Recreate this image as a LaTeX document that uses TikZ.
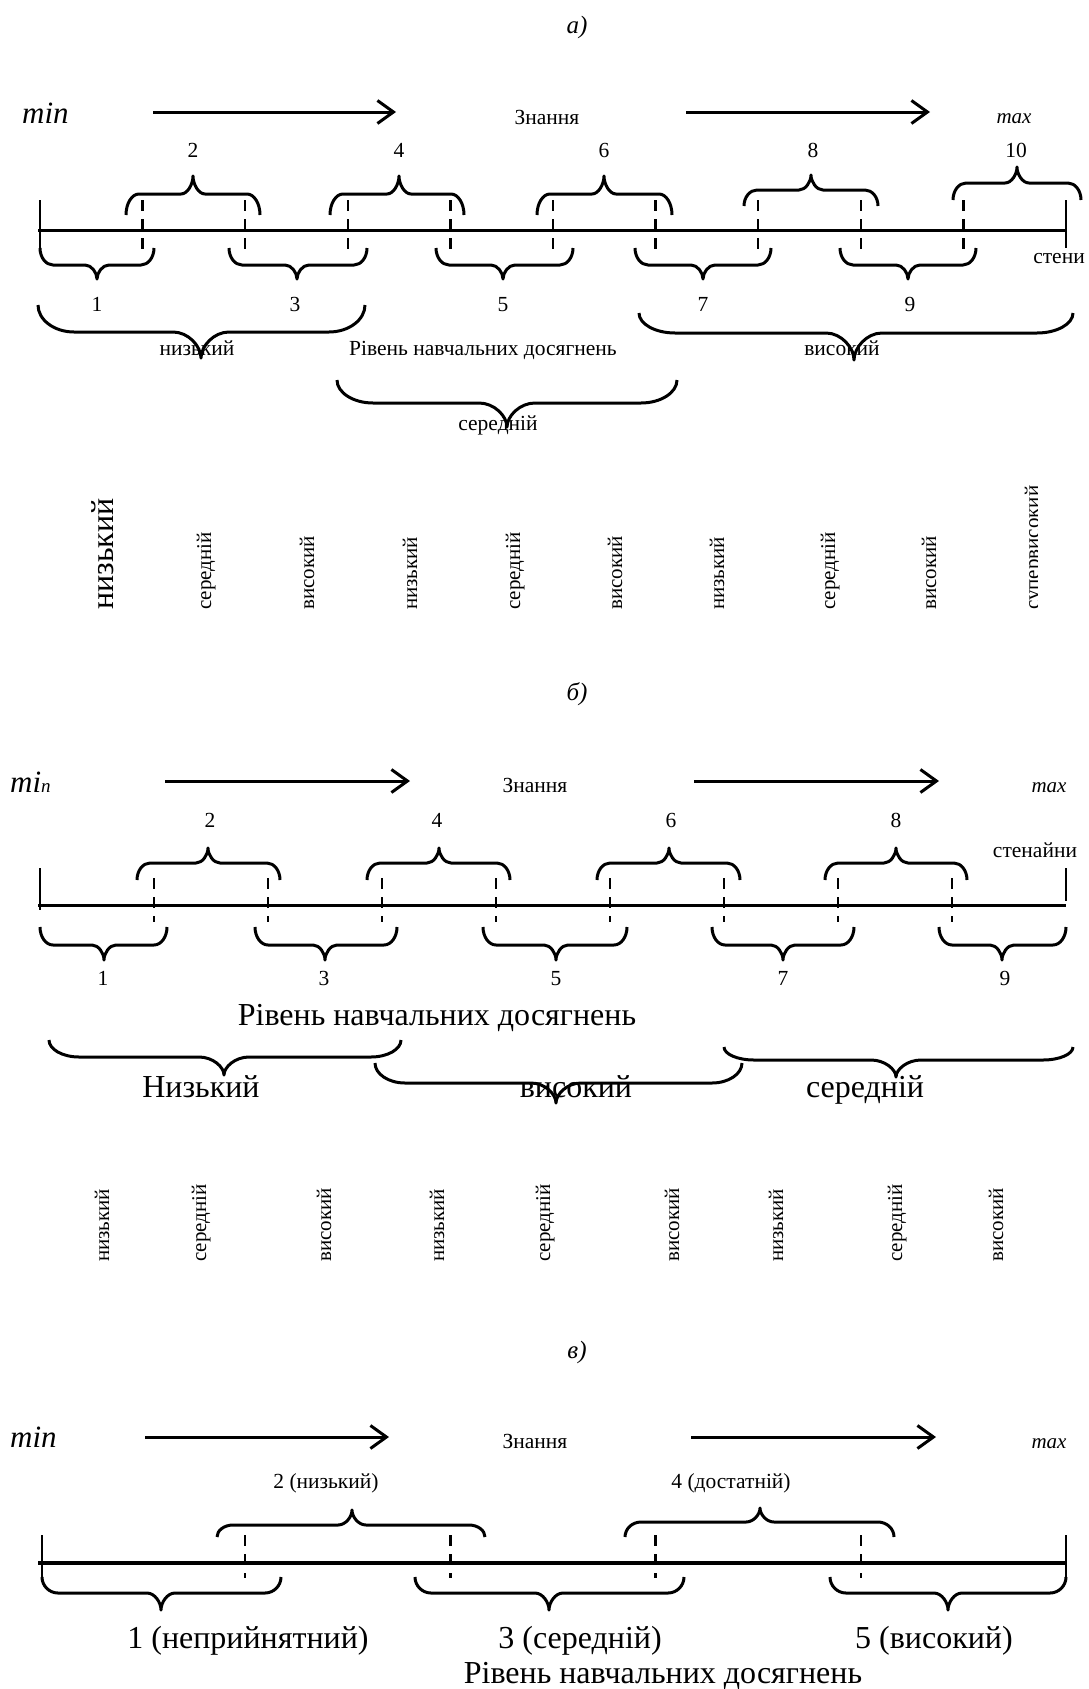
\documentclass[tikz,border=0pt]{standalone}
\usepackage{fontspec}
\setmainfont{Liberation Serif}
\usetikzlibrary{arrows.meta}

% curly brace: x1, x2, x of tip, y of ends, y of bar, y of tip, hook width, tip half-width
\newcommand{\curlybr}[8]{%
  \draw[brc] (#1,#4) .. controls (#1,{#4+0.55*(#5-#4)}) and ({#1+0.45*#7},#5) .. ({#1+#7},#5)
    -- ({#3-#8},#5) .. controls ({#3-0.45*#8},#5) and (#3,{#6+0.45*(#5-#6)}) .. (#3,#6)
    .. controls (#3,{#6+0.45*(#5-#6)}) and ({#3+0.45*#8},#5) .. ({#3+#8},#5)
    -- ({#2-#7},#5) .. controls ({#2-0.45*#7},#5) and (#2,{#4+0.55*(#5-#4)}) .. (#2,#4);}

\tikzset{
  sm/.style={font=\fontsize{21.5}{25}\selectfont, inner sep=0pt, anchor=base},
  lg/.style={font=\fontsize{32}{38}\selectfont, inner sep=0pt, anchor=base},
  hdr/.style={font=\fontsize{25}{30}\selectfont\itshape, inner sep=0pt, anchor=base},
  mn/.style={font=\fontsize{31}{36}\selectfont\itshape, inner sep=0pt, anchor=base west},
  mx/.style={font=\fontsize{21}{24}\selectfont\itshape, inner sep=0pt, anchor=base},
  vlab/.style={font=\fontsize{21}{24}\selectfont, inner sep=0pt, rotate=90, anchor=base west},
  vbig/.style={font=\fontsize{32}{36}\selectfont, inner sep=0pt, rotate=90, anchor=base west},
  axisline/.style={line width=3pt},
  axisheavy/.style={line width=4.5pt},
  endtick/.style={line width=2.2pt},
  dtick/.style={line width=2.4pt, dash pattern=on 11pt off 8pt},
  brc/.style={line width=3pt, line join=round},
  arr/.style={line width=3pt, -{Straight Barb[length=16pt,width=23pt,line width=3pt]}},
}

\begin{document}
\begin{tikzpicture}[x=1pt, y=-1pt]
\useasboundingbox (0,0) rectangle (1089,1689);

%% ---------------- panel a ----------------
\node[hdr] (ha) at (577,33) {а)};
\node[mn] (mina) at (22,123) {min};
\node[sm] (kna) at (547,124) {Знання};
\node[mx] (maxa) at (1014,123) {max};
\coordinate (a1s) at (153,112); \coordinate (a1e) at (396,112);
\coordinate (a2s) at (686,112); \coordinate (a2e) at (930,112);
\draw[arr] (a1s) -- (a1e);
\draw[arr] (a2s) -- (a2e);

\coordinate (axaL) at (38,230); \coordinate (axaR) at (1066,230);
\draw[axisline] (axaL) -- (axaR);
\draw[endtick] (40,200) -- (40,248);
\draw[endtick] (1066,200) -- (1066,248);
\foreach \k in {1,...,9}{
  \draw[dtick] ({40+102.6*\k},200) -- ({40+102.6*\k},249);
}
% upper braces
\curlybr{126}{260}{193}{215}{194}{176}{13}{12}
\curlybr{330}{464}{399}{215}{194}{176}{13}{12}
\curlybr{537}{672}{604}{215}{194}{176}{13}{12}
\curlybr{744}{878}{811}{206}{190}{175}{13}{12}
\curlybr{953}{1081}{1017}{200}{183}{167}{13}{12}
\node[sm] (ta2) at (193,157) {2};
\node[sm] (ta4) at (399,157) {4};
\node[sm] (ta6) at (604,157) {6};
\node[sm] (ta8) at (813,157) {8};
\node[sm] (ta10) at (1016,157) {10};
% lower braces
\curlybr{40}{154}{97}{248}{265}{279}{13}{12}
\curlybr{229}{367}{297}{248}{265}{279}{13}{12}
\curlybr{436}{573}{503}{248}{265}{279}{13}{12}
\curlybr{635}{771}{703}{248}{265}{279}{13}{12}
\curlybr{840}{976}{908}{248}{265}{279}{13}{12}
\node[sm] (ba1) at (97,311) {1};
\node[sm] (ba3) at (295,311) {3};
\node[sm] (ba5) at (503,311) {5};
\node[sm] (ba7) at (703,311) {7};
\node[sm] (ba9) at (910,311) {9};
\node[sm] (sta) at (1059,263) {стени};
% level braces
\curlybr{38}{365}{201}{305}{332}{358}{36}{28}
\curlybr{639}{1073}{854}{313}{333}{360}{36}{28}
\curlybr{337}{677}{507}{380}{403}{427}{36}{28}
\node[sm] (la1) at (197,355) {низький};
\node[sm] (lra) at (483,355) {Рівень навчальних досягнень};
\node[sm] (la3) at (842,355) {високий};
\node[sm] (la2) at (498,430) {середній};
% vertical labels
\node[vbig] (va1) at (113,610) {низький};
\foreach \x/\t [count=\i from 2] in {206/середній, 309/високий, 412/низький, 515/середній,
    617/високий, 719/низький, 830/середній, 931/високий}{
  \node[vlab] (va\i) at ({\x+5},610) {\t};
}
\begin{scope}
  \clip (1000,470) rectangle (1037,630);
  \node[vlab] (va10) at (1039,610) {супервисокий};
\end{scope}

%% ---------------- panel b ----------------
\node[hdr] (hb) at (577,700) {б)};
\node[inner sep=0pt, anchor=base west] (minb) at (10,792)
  {\fontsize{31}{36}\selectfont\itshape mi\fontsize{19}{22}\selectfont n};
\node[sm] (knb) at (535,792) {Знання};
\node[mx] (maxb) at (1049,792) {max};
\coordinate (b1s) at (165,781); \coordinate (b1e) at (410,781);
\coordinate (b2s) at (694,781); \coordinate (b2e) at (939,781);
\draw[arr] (b1s) -- (b1e);
\draw[arr] (b2s) -- (b2e);

\coordinate (axbL) at (38,905); \coordinate (axbR) at (1066,905);
\draw[axisline] (axbL) -- (axbR);
\draw[endtick] (40,868) -- (40,910);
\draw[endtick] (1066,868) -- (1066,901);
\foreach \k in {1,...,8}{
  \draw[dtick] ({40+114*\k},878) -- ({40+114*\k},922);
}
\curlybr{137}{280}{208}{880}{863}{848}{13}{12}
\curlybr{367}{510}{439}{880}{863}{848}{13}{12}
\curlybr{597}{740}{669}{880}{863}{848}{13}{12}
\curlybr{825}{967}{896}{880}{863}{848}{13}{12}
\node[sm] (tb2) at (210,827) {2};
\node[sm] (tb4) at (437,827) {4};
\node[sm] (tb6) at (671,827) {6};
\node[sm] (tb8) at (896,827) {8};
\node[sm] (stb) at (1035,857) {стенайни};
\curlybr{40}{167}{104}{927}{945}{960}{13}{12}
\curlybr{255}{397}{325}{927}{945}{960}{13}{12}
\curlybr{483}{627}{556}{927}{945}{960}{13}{12}
\curlybr{712}{854}{783}{927}{945}{960}{13}{12}
\curlybr{939}{1066}{1002}{927}{945}{960}{13}{12}
\node[sm] (bb1) at (103,985) {1};
\node[sm] (bb3) at (324,985) {3};
\node[sm] (bb5) at (556,985) {5};
\node[sm] (bb7) at (783,985) {7};
\node[sm] (bb9) at (1005,985) {9};
\node[lg] (lrb) at (437,1025) {Рівень навчальних досягнень};
\curlybr{49}{401}{224}{1040}{1057}{1075}{30}{25}
\curlybr{375}{742}{556}{1063}{1083}{1103}{30}{25}
\curlybr{724}{1073}{896}{1047}{1060}{1077}{30}{25}
\node[lg] (lb1) at (201,1097) {Низький};
\node[lg] (lb3) at (576,1097) {високий};
\node[lg] (lb2) at (865,1097) {середній};
\foreach \x/\t [count=\i] in {104/низький, 201/середній, 326/високий, 439/низький, 545/середній,
    674/високий, 778/низький, 897/середній, 998/високий}{
  \node[vlab] (vb\i) at ({\x+5},1262) {\t};
}

%% ---------------- panel c ----------------
\node[hdr] (hc) at (577,1358) {в)};
\node[mn] (minc) at (10,1447) {min};
\node[sm] (knc) at (535,1448) {Знання};
\node[mx] (maxc) at (1049,1448) {max};
\coordinate (c1s) at (145,1437); \coordinate (c1e) at (389,1437);
\coordinate (c2s) at (691,1437); \coordinate (c2e) at (936,1437);
\draw[arr] (c1s) -- (c1e);
\draw[arr] (c2s) -- (c2e);

\coordinate (axcL) at (38,1563); \coordinate (axcR) at (1066,1563);
\draw[axisheavy] (axcL) -- (axcR);
\draw[endtick] (42,1535) -- (42,1578);
\draw[endtick] (1066,1535) -- (1066,1578);
\foreach \k in {1,...,4}{
  \draw[dtick] ({40+205.2*\k},1535) -- ({40+205.2*\k},1578);
}
\curlybr{217}{485}{352}{1537}{1525}{1510}{16}{14}
\curlybr{625}{894}{760}{1537}{1522}{1508}{16}{14}
\node[sm] (tc2) at (326,1488) {2 (низький)};
\node[sm] (tc4) at (731,1488) {4 (достатній)};
\curlybr{42}{281}{161}{1577}{1593}{1610}{16}{14}
\curlybr{415}{684}{549}{1577}{1593}{1610}{16}{14}
\curlybr{830}{1066}{948}{1577}{1593}{1610}{16}{14}
\node[lg] (lc1) at (248,1648) {1 (неприйнятний)};
\node[lg] (lc3) at (580,1648) {3 (середній)};
\node[lg] (lc5) at (934,1648) {5 (високий)};
\node[lg] (lrc) at (663,1683) {Рівень навчальних досягнень};
\end{tikzpicture}
\end{document}
